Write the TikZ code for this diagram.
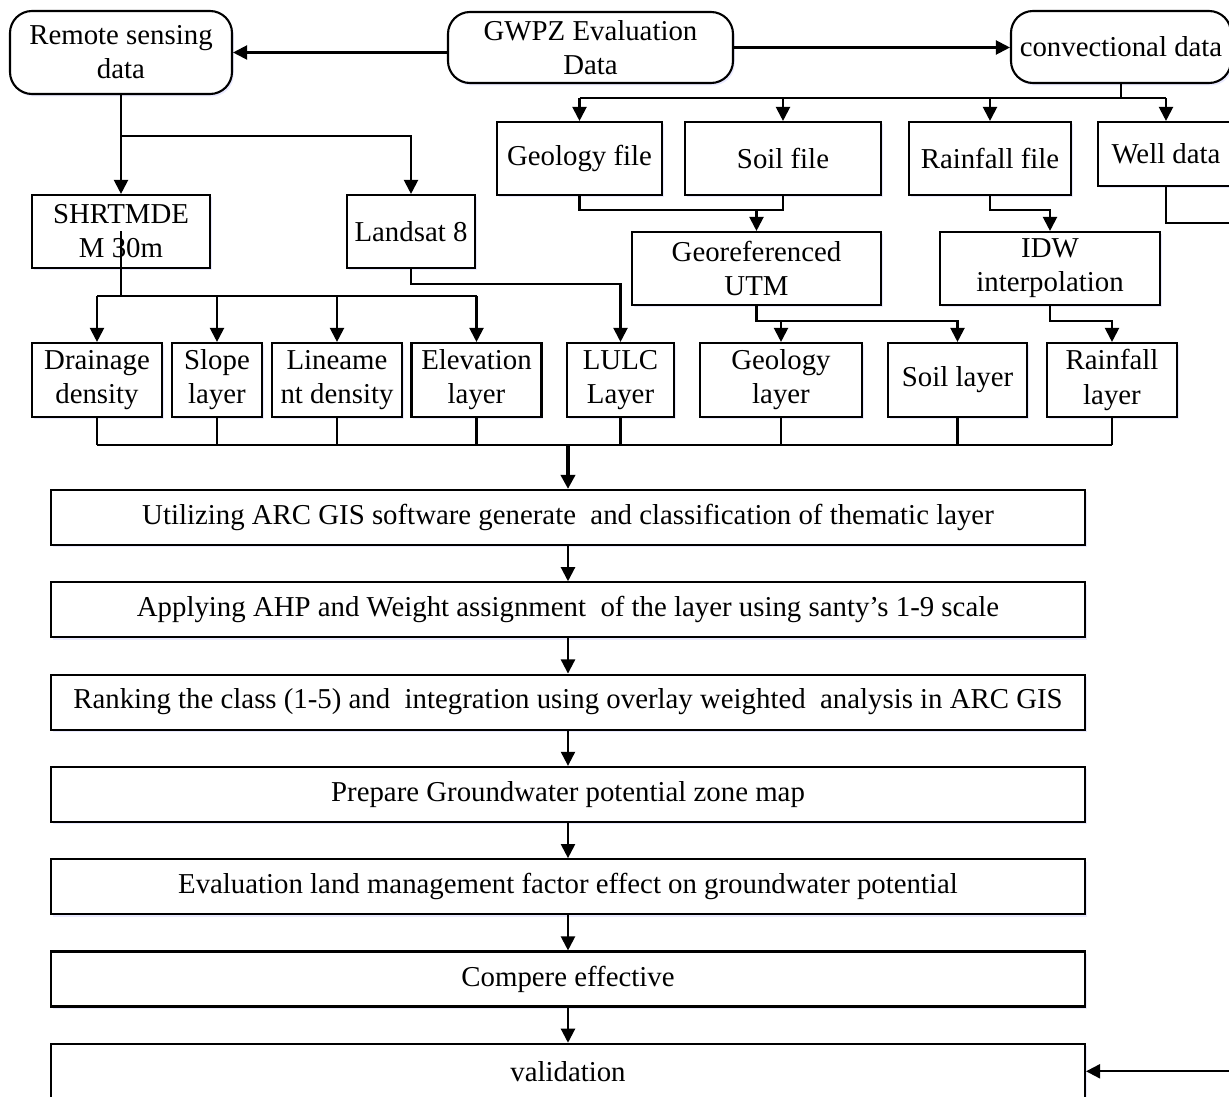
\documentclass[tikz,border=0pt]{standalone}
\usepackage{fontspec}
\setmainfont{Liberation Serif}
\usetikzlibrary{arrows.meta, shadows}

\begin{document}
\begin{tikzpicture}[>={Triangle[length=4pt, width=4pt]}, font=\fontsize{8.2}{9.7}\selectfont, line width=0.6pt,
  box/.style={draw, fill=white, align=center, inner sep=1pt,
    drop shadow={shadow xshift=0.5pt, shadow yshift=-0.7pt, fill=blue!12, opacity=0.7}},
  src/.style={box, rounded corners=0.22cm},
  stage/.style={box, minimum width=10.34cm, minimum height=0.55cm}]
  \useasboundingbox (0,0) rectangle (12.29,-10.97);

  % Datenquellen
  \node[src, minimum width=2.22cm, minimum height=0.83cm] (rs) at (1.21,-0.525) {Remote sensing\\data};
  \node[src, minimum width=2.85cm, minimum height=0.71cm] (gwpz) at (5.905,-0.475) {GWPZ Evaluation\\Data};
  \node[src, minimum width=2.2cm, minimum height=0.72cm] (conv) at (11.21,-0.47) {convectional data};
  \draw[->] (gwpz.west |- rs.east) -- (rs.east);
  \draw[->] (gwpz.east) -- (gwpz.east -| conv.west);

  % Konventionelle Daten
  \node[box, minimum width=1.65cm, minimum height=0.73cm] (geoF) at (5.795,-1.585) {Geology file};
  \node[box, minimum width=1.96cm, minimum height=0.73cm] (soilF) at (7.83,-1.585) {Soil file};
  \node[box, minimum width=1.62cm, minimum height=0.73cm] (rainF) at (9.9,-1.585) {Rainfall file};
  \node[box, minimum width=1.36cm, minimum height=0.64cm] (well) at (11.66,-1.54) {Well data};
  \draw (conv.south) -- ++(0,-0.14) coordinate (convfork);
  \draw (geoF.north |- convfork) -- (well.north |- convfork);
  \foreach \n in {geoF, soilF, rainF, well} {
    \draw[->] (\n.north |- convfork) -- (\n.north);
  }
  \node[box, minimum width=2.49cm, minimum height=0.73cm] (georef) at (7.565,-2.685) {Georeferenced\\UTM};
  \node[box, minimum width=2.2cm, minimum height=0.73cm] (idw) at (10.5,-2.685) {IDW\\interpolation};
  \draw (geoF.south) -- ++(0,-0.14) coordinate (geofork) -| (soilF.south);
  \draw[->] (georef.north |- geofork) -- (georef.north);
  \draw[->] (rainF.south) -- (rainF.south |- geofork) -| (idw.north);

  % Fernerkundung
  \node[box, minimum width=1.78cm, minimum height=0.73cm] (dem) at (1.21,-2.315) {SHRTMDE\\M 30m};
  \node[box, minimum width=1.28cm, minimum height=0.73cm] (land) at (4.11,-2.315) {Landsat 8};
  \draw[->] (rs.south) -- (dem.north);
  \draw[->] (rs.south) -- ++(0,-0.41) -| (land.north);

  % Thematische Layer
  \foreach \n/\x/\w/\txt in {drain/0.97/1.30/{Drainage\\density}, slope/2.17/0.90/{Slope\\layer},
      line/3.37/1.30/{Lineame\\nt density}, elev/4.765/1.30/{Elevation\\layer}, lulc/6.205/1.07/{LULC\\Layer},
      geoL/7.81/1.62/{Geology\\layer}, soilL/9.575/1.39/{Soil layer}, rainL/11.12/1.30/{Rainfall\\layer}} {
    \node[box, minimum width=\w cm, minimum height=0.74cm] (\n) at (\x,-3.80) {\txt};
  }
  \draw (dem.center) -- ++(0,-0.645) coordinate (demfork);
  \draw (drain.north |- demfork) -- (elev.north |- demfork);
  \foreach \n in {drain, slope, line, elev} {
    \draw[->] (\n.north |- demfork) -- (\n.north);
  }
  \draw[->] (land.south) -- ++(0,-0.15) -| (lulc.north);
  \draw[->] (georef.south) -- ++(0,-0.15) coordinate (utmfork) -| (soilL.north);
  \draw[->] (geoL.north |- utmfork) -- (geoL.north);
  \draw[->] (idw.south) -- ++(0,-0.15) -| (rainL.north);

  % Arbeitsschritte
  \foreach \n/\y/\txt in {util/5.175/{Utilizing ARC GIS software generate\ \ and classification of thematic layer},
      ahp/6.098/{Applying AHP and Weight assignment\ \ of the layer using santy’s 1-9 scale},
      rank/7.021/{Ranking the class (1-5) and\ \ integration using overlay weighted\ \ analysis in ARC GIS},
      gwpzmap/7.944/{Prepare Groundwater potential zone map},
      eval/8.867/{Evaluation land management factor effect on groundwater potential},
      comp/9.790/{Compere effective},
      val/10.713/{validation}} {
    \node[stage] (\n) at (5.68,-\y) {\txt};
  }
  \foreach \a/\b in {util/ahp, ahp/rank, rank/gwpzmap, gwpzmap/eval, eval/comp, comp/val} {
    \draw[->] (\a) -- (\b);
  }

  % Zusammenfuehrung
  \draw (drain.south) -- ++(0,-0.27) coordinate (lowfork);
  \foreach \n in {slope, line, elev, lulc, geoL, soilL, rainL} {
    \draw (\n.south) -- (\n.south |- lowfork);
  }
  \draw (lowfork) -- (rainL.south |- lowfork);
  \draw[->, line width=1pt] (util.north |- lowfork) -- (util.north);

  % Brunnendaten zur Validierung
  \coordinate (rim) at (12.45,-2.23);
  \draw[->] (well.south) |- (rim) |- (val.east);
\end{tikzpicture}
\end{document}
